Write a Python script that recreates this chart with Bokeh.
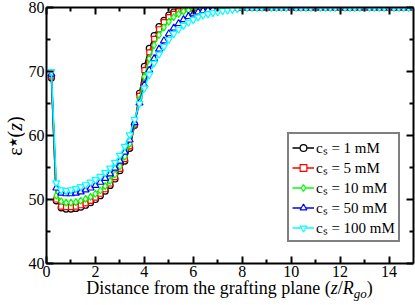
from bokeh.plotting import figure
from bokeh.models import (LinearAxis, Range1d, Legend, LegendItem, Div,
                          FixedTicker)
from bokeh.layouts import row, column
from bokeh.embed import file_html
from bokeh.resources import INLINE

# ---------------- data ----------------
z = [0.2, 0.4, 0.6, 0.8, 1.0, 1.2, 1.4, 1.6, 1.8, 2.0,
     2.2, 2.4, 2.6, 2.8, 3.0, 3.2, 3.4, 3.6, 3.8, 4.0,
     4.2, 4.4, 4.6, 4.8, 5.0, 5.2, 5.4, 5.6, 5.8, 6.0,
     6.2, 6.4, 6.6, 6.8, 7.0, 7.2, 7.4, 7.6, 7.8, 8.0,
     8.2, 8.4, 8.6, 8.8, 9.0, 9.2, 9.4, 9.6, 9.8, 10.0,
     10.2, 10.4, 10.6, 10.8, 11.0, 11.2, 11.4, 11.6, 11.8, 12.0,
     12.2, 12.4, 12.6, 12.8, 13.0, 13.2, 13.4, 13.6, 13.8, 14.0,
     14.2, 14.4, 14.6, 14.8, 15.0]

eps_1mM = [69.0, 49.8, 48.7, 48.5, 48.5, 48.6, 48.8, 49.1, 49.5, 50.0,
           50.6, 51.3, 52.2, 53.2, 54.5, 56.0, 58.0, 61.6, 66.6, 70.8,
           73.6, 75.6, 77.0, 78.0, 78.8, 79.3, 79.6, 79.8, 79.9, 80.0,
           80.0, 80.0, 80.0, 80.0, 80.0, 80.0, 80.0, 80.0, 80.0, 80.0,
           80.0, 80.0, 80.0, 80.0, 80.0, 80.0, 80.0, 80.0, 80.0, 80.0,
           80.0, 80.0, 80.0, 80.0, 80.0, 80.0, 80.0, 80.0, 80.0, 80.0,
           80.0, 80.0, 80.0, 80.0, 80.0, 80.0, 80.0, 80.0, 80.0, 80.0,
           80.0, 80.0, 80.0, 80.0, 80.0]

eps_5mM = [69.2, 50.0, 48.9, 48.8, 48.8, 48.9, 49.1, 49.4, 49.8, 50.3,
           50.9, 51.6, 52.5, 53.5, 54.8, 56.3, 58.3, 61.7, 66.2, 70.2,
           73.0, 75.1, 76.6, 77.7, 78.5, 79.0, 79.4, 79.7, 79.8, 79.9,
           80.0, 80.0, 80.0, 80.0, 80.0, 80.0, 80.0, 80.0, 80.0, 80.0,
           80.0, 80.0, 80.0, 80.0, 80.0, 80.0, 80.0, 80.0, 80.0, 80.0,
           80.0, 80.0, 80.0, 80.0, 80.0, 80.0, 80.0, 80.0, 80.0, 80.0,
           80.0, 80.0, 80.0, 80.0, 80.0, 80.0, 80.0, 80.0, 80.0, 80.0,
           80.0, 80.0, 80.0, 80.0, 80.0]

eps_10mM = [69.4, 50.6, 49.7, 49.5, 49.5, 49.6, 49.8, 50.1, 50.4, 50.9,
            51.4, 52.1, 52.9, 53.9, 55.2, 56.7, 58.7, 61.8, 65.6, 69.2,
            72.0, 74.1, 75.7, 76.9, 77.8, 78.5, 79.0, 79.4, 79.6, 79.8,
            79.9, 80.0, 80.0, 80.0, 80.0, 80.0, 80.0, 80.0, 80.0, 80.0,
            80.0, 80.0, 80.0, 80.0, 80.0, 80.0, 80.0, 80.0, 80.0, 80.0,
            80.0, 80.0, 80.0, 80.0, 80.0, 80.0, 80.0, 80.0, 80.0, 80.0,
            80.0, 80.0, 80.0, 80.0, 80.0, 80.0, 80.0, 80.0, 80.0, 80.0,
            80.0, 80.0, 80.0, 80.0, 80.0]

eps_50mM = [69.6, 51.8, 51.0, 50.9, 50.9, 51.0, 51.2, 51.5, 51.8, 52.2,
            52.7, 53.3, 54.0, 54.9, 56.0, 57.4, 59.3, 62.0, 65.1, 67.9,
            70.2, 72.0, 73.5, 74.8, 75.9, 76.8, 77.5, 78.1, 78.6, 79.0,
            79.3, 79.5, 79.6, 79.7, 79.8, 79.9, 79.9, 80.0, 80.0, 80.0,
            80.0, 80.0, 80.0, 80.0, 80.0, 80.0, 80.0, 80.0, 80.0, 80.0,
            80.0, 80.0, 80.0, 80.0, 80.0, 80.0, 80.0, 80.0, 80.0, 80.0,
            80.0, 80.0, 80.0, 80.0, 80.0, 80.0, 80.0, 80.0, 80.0, 80.0,
            80.0, 80.0, 80.0, 80.0, 80.0]

eps_100mM = [70.0, 52.6, 51.5, 51.4, 51.5, 51.7, 52.0, 52.3, 52.7, 53.1,
             53.6, 54.2, 54.9, 55.8, 56.9, 58.3, 60.1, 62.5, 65.0, 67.4,
             69.5, 71.3, 72.7, 73.9, 75.0, 75.9, 76.6, 77.2, 77.7, 78.1,
             78.5, 78.8, 79.0, 79.2, 79.3, 79.5, 79.6, 79.7, 79.8, 79.9,
             80.0, 80.0, 80.0, 80.0, 80.0, 80.0, 80.0, 80.0, 80.0, 80.0,
             80.0, 80.0, 80.0, 80.0, 80.0, 80.0, 80.0, 80.0, 80.0, 80.0,
             80.0, 80.0, 80.0, 80.0, 80.0, 80.0, 80.0, 80.0, 80.0, 80.0,
             80.0, 80.0, 80.0, 80.0, 80.0]

series_labels = ["c\u209b = 1 mM", "c\u209b = 5 mM", "c\u209b = 10 mM",
                 "c\u209b = 50 mM", "c\u209b = 100 mM"]

x_major = [0, 2, 4, 6, 8, 10, 12, 14]
x_minor = [1, 3, 5, 7, 9, 11, 13]
y_major = [40, 50, 60, 70, 80]
y_minor = [45, 55, 65, 75]

x_title_html = ('Distance from the grafting plane (<i>z</i>/<i>R</i>'
                '<span style="font-size:13px;vertical-align:-4px"><i>go</i></span>)')
y_title_html = ('\u03b5<span style="font-size:11px;vertical-align:5px;'
                'font-family:\'DejaVu Sans\'">\u2605</span>(<i>z</i>)')

# ---------------- styling ----------------
SERIF = "Liberation Serif"
series = [
    (eps_1mM, "black", "circle", 6, "white"),
    (eps_5mM, "#ff0000", "square", 5, "white"),
    (eps_10mM, "#00ff00", "diamond", 7, "white"),
    (eps_50mM, "#0000ff", "triangle", 7, "white"),
    (eps_100mM, "#00ffff", "inverted_triangle", 7, "white"),
]

YDIV_W = 24
P_W = 415 - YDIV_W
P_H = 283
XDIV_H = 305 - P_H

p = figure(width=P_W, height=P_H, output_backend="svg", toolbar_location=None,
           x_range=Range1d(0, 15), y_range=Range1d(40, 80),
           min_border_left=22, min_border_right=2, min_border_top=7,
           min_border_bottom=20, background_fill_color="white",
           border_fill_color="white", outline_line_color=None)
p.grid.visible = False

p.add_layout(LinearAxis(), "above")
p.add_layout(LinearAxis(), "right")

for ax in p.xaxis:
    ax.ticker = FixedTicker(ticks=x_major, minor_ticks=x_minor)
for ax in p.yaxis:
    ax.ticker = FixedTicker(ticks=y_major, minor_ticks=y_minor)

for ax in p.axis:
    ax.axis_line_width = 2
    ax.axis_line_color = "black"
    ax.major_tick_in = 7
    ax.major_tick_out = 0
    ax.major_tick_line_width = 2
    ax.minor_tick_in = 4
    ax.minor_tick_out = 0
    ax.minor_tick_line_width = 2
    ax.major_label_text_font = SERIF
    ax.major_label_text_font_size = "16px"
    ax.major_label_text_color = "black"
    ax.major_label_standoff = 2
    ax.axis_label = None

p.above[0].major_label_overrides = {t: "" for t in x_major}
p.right[0].major_label_overrides = {t: "" for t in y_major}
p.above[0].major_label_standoff = 0
p.right[0].major_label_standoff = 0

items = []
for (ys, col, mk, sz, fill), lab in zip(series, series_labels):
    lr = p.line(z, ys, line_color=col, line_width=1.5)
    sr = p.scatter(z, ys, marker=mk, size=sz, line_color=col,
                   fill_color=fill, line_width=1.2)
    items.append(LegendItem(label=lab, renderers=[lr, sr]))

legend = Legend(items=items, location=(241, 21),
                label_text_font=SERIF, label_text_font_size="15px",
                label_text_line_height=0.9,
                label_text_color="black",
                border_line_color="black", border_line_width=2,
                background_fill_color="white", background_fill_alpha=1,
                padding=3, spacing=-4, margin=0, glyph_width=22,
                glyph_height=17, label_height=17, label_standoff=2)
p.add_layout(legend)

# ---------------- axis titles (HTML, with italics / sub- and superscripts) ----
ydiv = Div(width=YDIV_W, height=P_H, margin=0,
           text=('<div style="position:relative;width:%dpx;height:%dpx;">'
                 '<div style="position:absolute;left:14px;top:136px;'
                 'transform:translate(-50%%,-50%%) rotate(-90deg);'
                 'white-space:nowrap;font-family:\'Liberation Serif\';'
                 'font-size:20px;line-height:20px;color:black;">%s</div></div>'
                 % (YDIV_W, P_H, y_title_html)))

xdiv = Div(width=415, height=XDIV_H, margin=0,
           text=('<div style="position:relative;width:415px;height:%dpx;">'
                 '<div style="position:absolute;left:229.5px;top:-5px;'
                 'transform:translateX(-50%%);white-space:nowrap;'
                 'font-family:\'Liberation Serif\';font-size:18px;'
                 'line-height:20px;color:black;">%s</div></div>'
                 % (XDIV_H, x_title_html)))

layout = column(row(ydiv, p, spacing=0), xdiv, spacing=0)

open("out.html", "w").write(file_html(layout, INLINE))
